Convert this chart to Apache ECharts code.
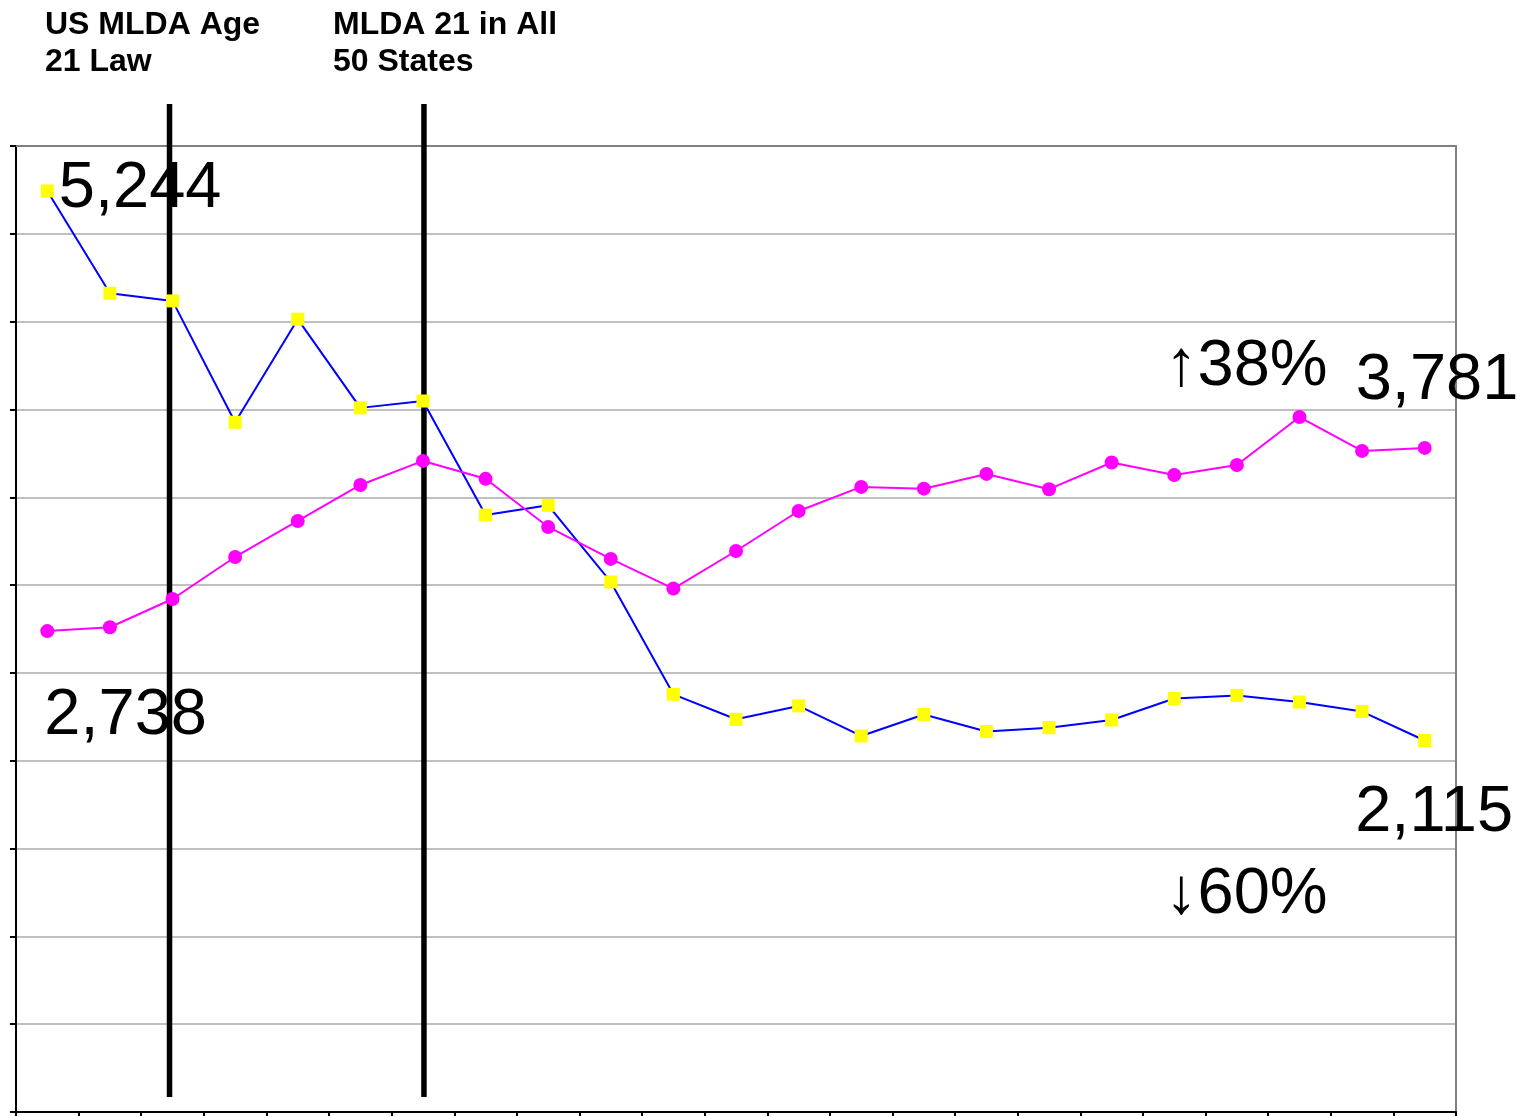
<!DOCTYPE html>
<html>
<head>
<meta charset="utf-8">
<script src="https://cdn.jsdelivr.net/npm/echarts@6/dist/echarts.min.js"></script>
<style>
html,body{margin:0;padding:0;background:#fff;}
#chart{width:1524px;height:1116px;}
</style>
</head>
<body>
<div id="chart"></div>
<script>
// ---- data ----
const years = ['1982','1983','1984','1985','1986','1987','1988','1989','1990','1991','1992','1993',
               '1994','1995','1996','1997','1998','1999','2000','2001','2002','2003','2004'];
const underAgeSeries = [5244,4662,4618,3927,4514,4009,4048,3399,3454,3018,2378,2236,
                        2312,2141,2263,2166,2188,2232,2354,2372,2334,2280,2115];
const adultSeries = [2738,2760,2921,3160,3365,3570,3707,3605,3331,3149,2980,3194,
                     3422,3559,3549,3633,3546,3698,3627,3684,3957,3764,3781];
const yMin = 0, yMax = 5500, yStep = 500;
const lawYears = ['1984', '1988'];
const lawNotes = ['US MLDA Age\n21 Law', 'MLDA 21 in All\n50 States'];

// ---- helpers ----
const FONT = "'Liberation Sans', Arial, sans-serif";
const fmt = v => Number(v).toLocaleString('en-US');
const pct = arr => Math.round((arr[arr.length - 1] / arr[0] - 1) * 100);
const upPct = pct(adultSeries);
const downPct = pct(underAgeSeries);
const bigLabel = (offset) => ({
  show: true, position: 'right', distance: 4, offset: offset,
  fontFamily: FONT, fontSize: 65, color: '#000',
  formatter: p => fmt(p.value)
});
const last = years.length - 1;

const blueData = underAgeSeries.map((v, i) => {
  if (i === 0) return { value: v, label: bigLabel([1, -2]) };
  if (i === last) return { value: v, label: bigLabel([-80, 73]) };
  return v;
});
const pinkData = adultSeries.map((v, i) => {
  if (i === 0) return { value: v, label: bigLabel([-14, 85]) };
  if (i === last) return { value: v, label: bigLabel([-80, -67]) };
  return v;
});

const chart = echarts.init(document.getElementById('chart'), null, { renderer: 'canvas' });
const option = {
  backgroundColor: '#ffffff',
  animation: false,
  grid: { left: 16, right: 68, top: 146, bottom: 4, containLabel: false },
  xAxis: [{
    type: 'category', data: years, boundaryGap: true,
    axisLine: { show: true, lineStyle: { color: '#000', width: 2 } },
    axisTick: { show: true, length: 5, lineStyle: { color: '#000', width: 2 } },
    axisLabel: { show: false },
    splitLine: { show: false }
  }, {
    type: 'category', data: years, position: 'top',
    axisLine: { show: true, onZero: false, lineStyle: { color: '#808080', width: 2 } },
    axisTick: { show: false }, axisLabel: { show: false }, splitLine: { show: false }
  }],
  yAxis: [{
    type: 'value', min: yMin, max: yMax, interval: yStep,
    axisLine: { show: true, lineStyle: { color: '#000', width: 2 } },
    axisTick: { show: true, length: 6, lineStyle: { color: '#000', width: 2 } },
    axisLabel: { show: false },
    splitLine: { show: true, lineStyle: { color: '#c0c0c0', width: 2 } }
  }, {
    type: 'value', min: yMin, max: yMax, interval: yStep, position: 'right',
    axisLine: { show: true, onZero: false, lineStyle: { color: '#808080', width: 2 } },
    axisTick: { show: false }, axisLabel: { show: false }, splitLine: { show: false }
  }],
  series: [{
    name: 'Under 21',
    type: 'line',
    data: blueData,
    symbol: 'rect', symbolSize: 13,
    itemStyle: { color: '#ffff00' },
    lineStyle: { color: '#0000ff', width: 2 },
    z: 3
  }, {
    name: '21 and older',
    type: 'line',
    data: pinkData,
    symbol: 'circle', symbolSize: 14,
    itemStyle: { color: '#ff00ff' },
    lineStyle: { color: '#ff00ff', width: 2 },
    z: 4
  }]
};
chart.setOption(option);

const lineShift = [-3, 1];
const lineXs = lawYears.map((y, i) => chart.convertToPixel({ xAxisIndex: 0 }, y) + lineShift[i]);
const noteXs = [45, 333];
const graphics = [];
lineXs.forEach((x, i) => {
  graphics.push({
    type: 'line', z: 1,
    shape: { x1: x, y1: 104, x2: x, y2: 1097 },
    style: { stroke: '#000', lineWidth: 5.5 }
  });
  graphics.push({
    type: 'text', z: 10, x: noteXs[i], y: 6,
    style: {
      text: lawNotes[i], fill: '#000',
      font: "bold 32px " + FONT, lineHeight: 37.5,
      align: 'left', verticalAlign: 'top'
    }
  });
});
graphics.push({
  type: 'text', z: 10, x: 1165, y: 367,
  style: { text: (upPct >= 0 ? '\u2191' : '\u2193') + Math.abs(upPct) + '%', fill: '#000',
           font: "65px " + FONT, align: 'left', verticalAlign: 'middle' }
});
graphics.push({
  type: 'text', z: 10, x: 1165, y: 895,
  style: { text: (downPct >= 0 ? '\u2191' : '\u2193') + Math.abs(downPct) + '%', fill: '#000',
           font: "65px " + FONT, align: 'left', verticalAlign: 'middle' }
});
chart.setOption({ graphic: graphics });
</script>
</body>
</html>
